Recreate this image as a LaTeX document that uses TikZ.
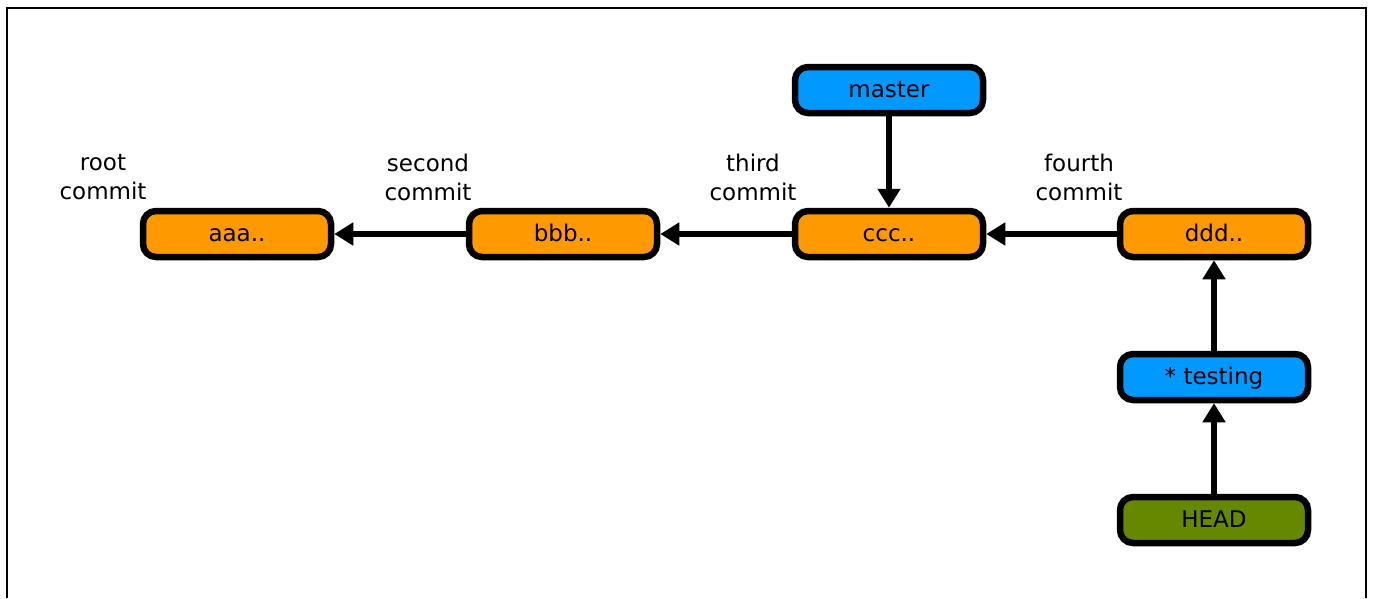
\documentclass[tikz,border=0pt]{standalone}
\usepackage{fontspec}
\setmainfont{DejaVu Sans}
\usetikzlibrary{arrows.meta}
\definecolor{commitorange}{RGB}{255,153,0}
\definecolor{branchblue}{RGB}{0,153,255}
\definecolor{headgreen}{RGB}{102,136,0}
\tikzset{
  box/.style={rectangle, rounded corners=13pt, draw=black, line width=6.5pt,
    minimum width=188pt, minimum height=46pt, inner sep=0pt,
    text height=18pt, text depth=4pt,
    font=\fontsize{23}{29}\selectfont},
  commit/.style={box, fill=commitorange},
  branch/.style={box, fill=branchblue},
  headref/.style={box, fill=headgreen},
  note/.style={align=center, font=\fontsize{23}{29}\selectfont},
  ptr/.style={line width=6pt, -{Triangle[length=19pt,width=22pt]}}
}
\begin{document}
\begin{tikzpicture}[x=1pt,y=-1pt]
\useasboundingbox (0,0) rectangle (1373,598);
\draw [line width=1.5pt] (7,598) -- (7,8) -- (1366,8) -- (1366,598);
% commits
\node [commit] (aaa) at (237,234) {aaa..};
\node [commit] (bbb) at (563,234) {bbb..};
\node [commit] (ccc) at (889,234) {ccc..};
\node [commit] (ddd) at (1214,234) {ddd..};
% refs
\node [branch] (master) at (889,90) {master};
\node [branch] (testing) at (1214,377) {* testing};
\node [headref] (head) at (1214,520) {HEAD};
% labels
\node [note] (lroot) at (103,177) {root\\commit};
\node [note] (lsecond) at (428,177) {second\\commit};
\node [note] (lthird) at (753,177) {third\\commit};
\node [note] (lfourth) at (1079,177) {fourth\\commit};
% pointers
\draw [ptr] (bbb) -- (aaa);
\draw [ptr] (ccc) -- (bbb);
\draw [ptr] (ddd) -- (ccc);
\draw [ptr] (master) -- (ccc);
\draw [ptr] (testing) -- (ddd);
\draw [ptr] (head) -- (testing);
\end{tikzpicture}
\end{document}
